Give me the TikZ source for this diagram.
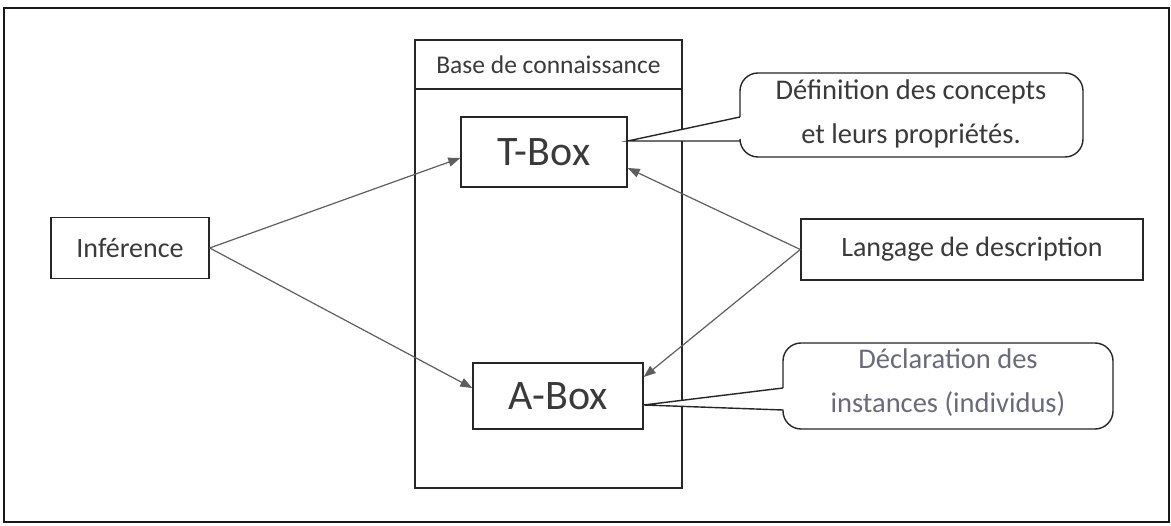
\documentclass[tikz,border=0pt]{standalone}
\usepackage{fontspec}
\setmainfont{Carlito}
\usetikzlibrary{arrows.meta,calc}
\definecolor{txt}{HTML}{3A3A3A}
\definecolor{txtlight}{HTML}{6A6A7A}
\definecolor{arr}{HTML}{5E5E5E}
\begin{document}
\begin{tikzpicture}[x=1pt,y=-1pt,
  box/.style={draw=black!85,line width=1.4pt,fill=white,inner sep=0pt,text=txt,font=\fontsize{28}{32}\selectfont},
  bigbox/.style={box,font=\fontsize{42}{48}\selectfont},
  conn/.style={draw=arr,line width=1.2pt,-{Triangle[length=12pt,width=9pt]}},
  callout/.style={draw=black!85,line width=1.4pt,fill=white},
  ctext/.style={align=center,inner sep=0pt,text=txt,font=\fontsize{28.5}{44}\selectfont}]
\useasboundingbox (0,0) rectangle (1171,526);
\node[draw=black!90,line width=2pt,minimum width=1165pt,minimum height=514pt,inner sep=0pt] (frame) at (586.5,265) {};
% knowledge base
\node[box,minimum width=267pt,minimum height=448pt] (base) at (548.5,264) {};
\node[box,minimum width=267pt,minimum height=49pt,font=\fontsize{25.5}{30}\selectfont] (basehdr) at (548.5,64.5) {Base de connaissance};
\node[bigbox,minimum width=166pt,minimum height=70pt] (tbox) at (544,152) {T-Box};
\node[bigbox,minimum width=170pt,minimum height=66pt] (abox) at (558,396) {A-Box};
\node[box,minimum width=158pt,minimum height=61pt] (inf) at (130,248) {Inférence};
\node[box,minimum width=342pt,minimum height=61pt] (lang) at (972,249.5) {Langage de description};
% callouts
\coordinate (tip1) at (tbox.east |- 0,141);
\draw[callout] (740,117) -- (tip1) -- (740,141) [rounded corners=18] -- (740,157) -- (1083,157) -- (1083,73) -- (740,73) -- (740,117);
\node[ctext] (c1) at (911,114) {Définition des concepts\\et leurs propriétés.};
\coordinate (tip2) at (abox.east |- 0,405);
\draw[callout] (783,388) -- (tip2) -- (783,410) [rounded corners=18] -- (783,429) -- (1113,429) -- (1113,343) -- (783,343) -- (783,388);
\node[ctext,text=txtlight] (c2) at (948,383) {Déclaration des\\instances (individus)};
% arrows
\draw[conn] (inf.east) -- (tbox.west |- 0,158);
\draw[conn] (inf.east) -- (abox.west |- 0,388);
\draw[conn] (lang.west) -- (tbox.east |- 0,168);
\draw[conn] (lang.west) -- (abox.east |- 0,377);
\end{tikzpicture}
\end{document}
